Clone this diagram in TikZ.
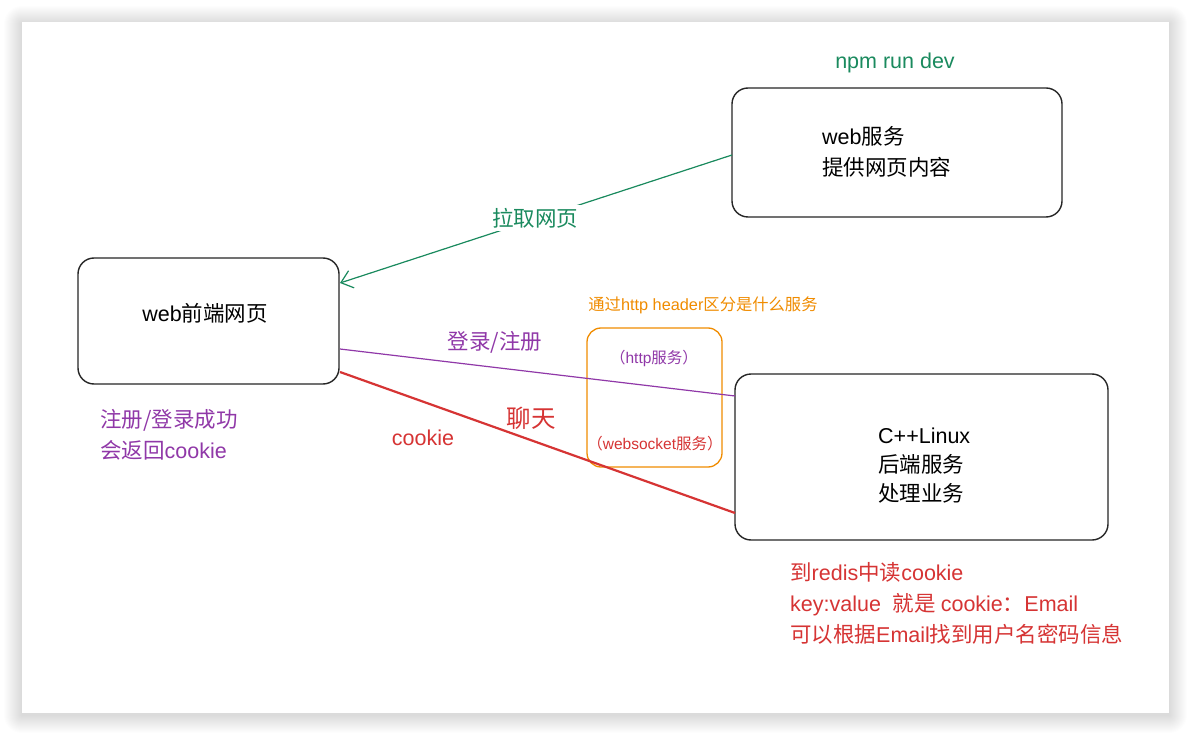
\documentclass[tikz,border=0pt]{standalone}
\usepackage{fontspec}
\setmainfont{Noto Sans CJK SC}
\newfontfamily\latfont{Liberation Sans}
\newcommand{\latn}[1]{{\latfont #1}}
\usetikzlibrary{arrows.meta}
\definecolor{cgreen}{HTML}{1A8A5E}
\definecolor{cpurple}{HTML}{9038A8}
\definecolor{cred}{HTML}{D63434}
\definecolor{corange}{HTML}{F08C00}
\tikzset{
  shadowstep/.style={fill=black,opacity=0.006},
  box/.style={draw=black!85,line width=1.4pt,rounded corners=16pt,fill=none},
  obox/.style={draw=corange,line width=1.3pt,rounded corners=14pt},
  lbl/.style={inner sep=1pt,font=\fontsize{21.5}{31}\selectfont},
  small/.style={inner sep=1pt,font=\fontsize{15.5}{18}\selectfont},
  conn/.style={line width=1.2pt},
}
\begin{document}
\begin{tikzpicture}[x=1pt,y=-1pt]
\useasboundingbox (0,0) rectangle (1191,735);
\fill[white] (0,0) rectangle (1191,735);
\foreach \i in {1,...,18}{
  \fill[shadowstep,rounded corners=\i pt] (22-\i,24-\i) rectangle (1169+\i,715+\i);
}
\fill[white] (22,22) rectangle (1169,713);

% boxes
\draw[box] (78,258) rectangle (339,384);
\draw[box] (732,88) rectangle (1062,217);
\draw[box] (735,374) rectangle (1108,540);
\draw[obox] (587,328) rectangle (722,467);

\node[lbl] (fetext) at (205,313) {\latn{web}前端网页};
\node[lbl,anchor=west,align=left] (ws) at (821,152) {\latn{web}服务\\提供网页内容};
\node[lbl,anchor=west,align=left,font=\fontsize{21.5}{29}\selectfont] (be) at (877,466) {\latn{C++Linux}\\后端服务\\处理业务};
\node[lbl,text=cgreen] (npm) at (895,63) {\latn{npm run dev}};

% anchor coordinates on boxes
\coordinate (wsW) at (732,155);
\coordinate (feA) at (340,283);
\coordinate (feB) at (340,349);
\coordinate (beA) at (735,396);
\coordinate (feC) at (340,372);
\coordinate (beB) at (735,513);

% connectors
\draw[conn,cgreen,-{Straight Barb[length=11pt,width=18pt]}] (wsW) -- (feA);
\node[lbl,text=cgreen,fill=white,inner sep=3pt] (pull) at (535,218) {拉取网页};
\draw[conn,cpurple] (feB) -- (beA);
\draw[cred,line width=2.2pt] (feC) -- (beB);

% labels
\node[lbl,text=cpurple] (login) at (495,342) {登录/注册};
\node[small,text=corange,font=\fontsize{16.3}{18}\selectfont] (hdr) at (703,305) {通过\latn{http header}区分是什么服务};
\node[small,text=cpurple] (http) at (654,358) {（\latn{http}服务）};
\node[small,text=cred] (wsk) at (655,444) {（\latn{websocket}服务）};
\node[lbl,anchor=west,align=left,text=cpurple] (succ) at (99,434.5) {注册/登录成功\\会返回\latn{cookie}};
\node[lbl,text=cred] (cookie) at (423,438) {\latn{cookie}};
\node[lbl,text=cred,font=\fontsize{24.5}{28}\selectfont] (chat) at (531,418) {聊天};
\node[lbl,anchor=west,align=left,text=cred] (redis) at (789,603) {到\latn{redis}中读\latn{cookie}\\\latn{key:value\ \ }就是 \latn{cookie}：\latn{Email}\\可以根据\latn{Email}找到用户名密码信息};
\end{tikzpicture}
\end{document}
